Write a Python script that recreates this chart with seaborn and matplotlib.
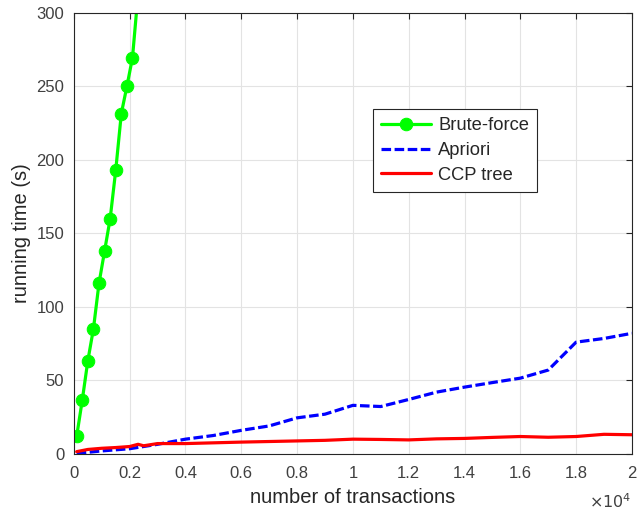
import numpy as np
import pandas as pd
import matplotlib
matplotlib.use("Agg")
import matplotlib.pyplot as plt
from matplotlib.ticker import FuncFormatter
import seaborn as sns

# data
brute_x = [100, 300, 500, 700, 900, 1100, 1300, 1500, 1700, 1900, 2100, 2300]
brute_y = [12, 36.5, 63.4, 85, 116, 138, 160, 193, 231.5, 250, 269.5, 313]

apriori_x = [100, 1000, 2000, 3000, 4000, 5000, 6000, 7000, 8000, 9000, 10000,
             11000, 12000, 13000, 14000, 15000, 16000, 17000, 18000, 19000, 20000]
apriori_y = [0.3, 2, 3.5, 6.5, 10, 12.5, 16, 19, 24.5, 27, 33,
             32.2, 37, 42, 45.4, 48.5, 51.5, 57, 76, 78.5, 82]

ccp_x = [100, 500, 1000, 1500, 2000, 2300, 2500, 3000, 4000, 5000, 6000, 7000, 8000,
         9000, 10000, 11000, 12000, 13000, 14000, 15000, 16000, 17000, 18000, 19000, 20000]
ccp_y = [1.5, 3, 3.8, 4.3, 5, 6.5, 5.5, 7, 7, 7.5, 8, 8.4, 8.8,
         9.2, 10, 9.8, 9.5, 10.2, 10.5, 11.2, 11.8, 11.3, 11.8, 13.3, 13]

x_ticks = [0, 2000, 4000, 6000, 8000, 10000, 12000, 14000, 16000, 18000, 20000]
y_ticks = [0, 50, 100, 150, 200, 250, 300]

sns.set_style("whitegrid")
plt.rcParams['font.family'] = ['Liberation Sans', 'DejaVu Sans']

fig = plt.figure(figsize=(6.37, 5.14), dpi=100)
ax = fig.add_axes([0.116, 0.117, 0.876, 0.858])

brute = pd.DataFrame({'x': brute_x, 'y': brute_y})
apriori = pd.DataFrame({'x': apriori_x, 'y': apriori_y})
ccp = pd.DataFrame({'x': ccp_x, 'y': ccp_y})

sns.lineplot(data=brute, x='x', y='y', ax=ax, color='#00ff00', lw=2.3,
             marker='o', markersize=9, markeredgecolor='#00ff00', label='Brute-force')
sns.lineplot(data=apriori, x='x', y='y', ax=ax, color='#0000ff', lw=2.3,
             label='Apriori', dashes=False)
ax.lines[-1].set_dashes((3, 1.1))
sns.lineplot(data=ccp, x='x', y='y', ax=ax, color='#ff0000', lw=2.3, label='CCP tree')

ax.set_xlim(0, 20000)
ax.set_ylim(0, 300)
ax.set_xticks(x_ticks)
ax.set_yticks(y_ticks)
ax.xaxis.set_major_formatter(FuncFormatter(lambda v, p: ('%g' % (v / 1e4))))
ax.tick_params(direction='in', top=True, right=True, labelsize=12,
               colors='#262626', length=4, width=0.8)
ax.tick_params(axis='both', labelcolor='#404040')
ax.tick_params(axis='x', pad=9)
ax.tick_params(axis='y', pad=7)
ax.grid(True, color='#e3e3e3', lw=0.8)
for s in ax.spines.values():
    s.set_color('#262626')
    s.set_linewidth(0.8)

ax.set_xlabel('number of transactions', fontsize=14.5, color='#262626', labelpad=5)
ax.set_ylabel('running time (s)', fontsize=14.5, color='#262626', labelpad=4)
fig.text(0.925, 0.012, r'$\times10^{4}$', fontsize=11.5, color='#404040')

leg = ax.legend(loc='upper left', bbox_to_anchor=(0.536, 0.782), fontsize=13.2,
                frameon=True, fancybox=False, framealpha=1, edgecolor='#262626',
                handlelength=2.7, borderpad=0.45, labelspacing=0.42,
                borderaxespad=0, handletextpad=0.4)
leg.get_frame().set_linewidth(0.8)

fig.savefig('out.png', dpi=100)
